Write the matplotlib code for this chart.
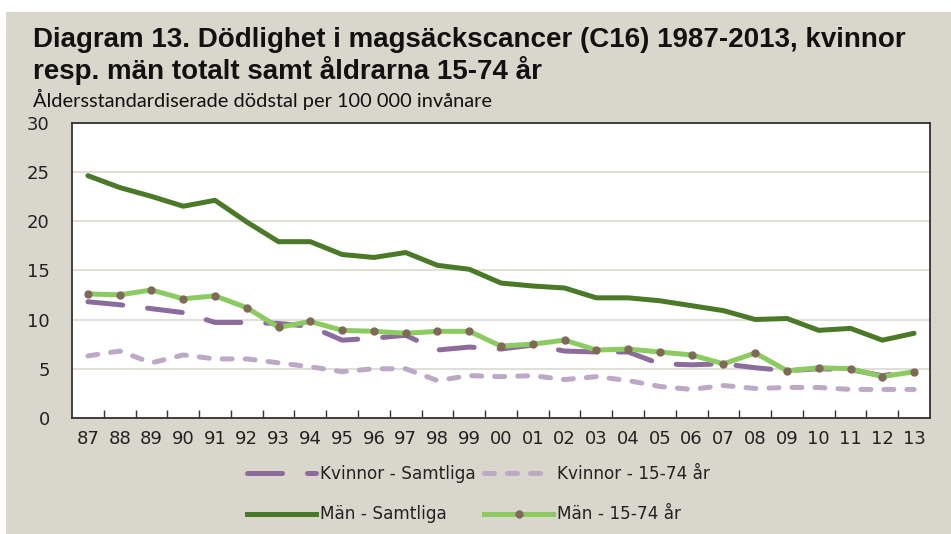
import matplotlib
matplotlib.use("Agg")
import matplotlib.pyplot as plt
from matplotlib.patches import Rectangle
from matplotlib.lines import Line2D

years = ["87", "88", "89", "90", "91", "92", "93", "94", "95", "96", "97", "98", "99",
         "00", "01", "02", "03", "04", "05", "06", "07", "08", "09", "10", "11", "12", "13"]

kvinnor_samtliga = [11.8, 11.5, 11.1, 10.7, 9.7, 9.7, 9.6, 9.3, 7.9, 8.1, 8.4, 6.9, 7.2,
                    7.0, 7.4, 6.8, 6.7, 6.7, 5.5, 5.4, 5.5, 5.1, 4.8, 5.0, 4.9, 4.3, 4.8]
kvinnor_1574 = [6.3, 6.8, 5.6, 6.4, 6.0, 6.0, 5.6, 5.2, 4.7, 5.0, 5.0, 3.8, 4.3,
                4.2, 4.3, 3.9, 4.2, 3.8, 3.2, 2.9, 3.3, 3.0, 3.1, 3.1, 2.9, 2.9, 2.9]
man_samtliga = [24.6, 23.4, 22.5, 21.5, 22.1, 19.9, 17.9, 17.9, 16.6, 16.3, 16.8, 15.5, 15.1,
                13.7, 13.4, 13.2, 12.2, 12.2, 11.9, 11.4, 10.9, 10.0, 10.1, 8.9, 9.1, 7.9, 8.6]
man_1574 = [12.6, 12.5, 13.0, 12.1, 12.4, 11.2, 9.2, 9.8, 8.9, 8.8, 8.6, 8.8, 8.8,
            7.3, 7.5, 7.9, 6.9, 7.0, 6.7, 6.4, 5.5, 6.6, 4.8, 5.1, 5.0, 4.2, 4.7]

labels = ["Kvinnor - Samtliga", "Kvinnor - 15-74 år", "Män - Samtliga", "Män - 15-74 år"]

C_PURPLE = "#8C6C9C"
C_LPURPLE = "#BDA9C6"
C_DGREEN = "#4A7A28"
C_LGREEN = "#8CCB62"
C_DOT = "#7F6A58"
BG = "#D9D7CB"

DASH_K = (7, 5)
DASH_K2 = (2, 2.6)

W, H = 951, 534
fig = plt.figure(figsize=(W / 100, H / 100), dpi=100, facecolor="white")
fig.patches.append(Rectangle((6 / W, 0), 1 - 6 / W, (H - 12) / H, transform=fig.transFigure,
                             facecolor=BG, edgecolor="none", zorder=-10))

ax = fig.add_axes([72 / W, 1 - 418 / H, (930 - 72) / W, (418 - 122.5) / H])
ax.set_facecolor("white")
x = list(range(len(years)))

ax.plot(x, kvinnor_samtliga, color=C_PURPLE, lw=3.6, dashes=DASH_K,
        dash_capstyle="round", zorder=3)
ax.plot(x, kvinnor_1574, color=C_LPURPLE, lw=3.6, dashes=DASH_K2, dash_capstyle="round", zorder=2)
ax.plot(x, man_samtliga, color=C_DGREEN, lw=3.6, solid_capstyle="round", zorder=4)
ax.plot(x, man_1574, color=C_LGREEN, lw=3.6, marker="o", ms=5, mfc=C_DOT, mec=C_DOT,
        solid_capstyle="round", zorder=5)

ax.set_xlim(-0.5, len(years) - 0.5)
ax.set_ylim(0, 30)
ax.set_yticks(range(0, 31, 5))
ax.yaxis.grid(True, color="#DCDAD0", lw=1.2)
ax.set_axisbelow(True)
ax.tick_params(axis="y", length=0, labelsize=13, pad=16, colors="#222222")
ax.set_xticks(x)
ax.set_xticklabels(years)
ax.tick_params(axis="x", which="major", length=0, labelsize=13, pad=9, colors="#222222")
ax.set_xticks([i + 0.5 for i in x[:-1]], minor=True)
ax.tick_params(axis="x", which="minor", direction="in", length=6, width=1, color="#333333")
for s in ax.spines.values():
    s.set_color("#333333")
    s.set_linewidth(1.3)

fig.text(33 / W, 1 - 47 / H, "Diagram 13. Dödlighet i magsäckscancer (C16) 1987-2013, kvinnor",
         fontsize=20, fontweight="bold", family="Liberation Sans", color="#111111", va="baseline")
fig.text(33 / W, 1 - 79 / H, "resp. män totalt samt åldrarna 15-74 år",
         fontsize=20, fontweight="bold", family="Liberation Sans", color="#111111", va="baseline")
fig.text(33 / W, 1 - 107 / H, "Åldersstandardiserade dödstal per 100 000 invånare",
         fontsize=14.4, family="Lato", color="#111111", va="baseline")

h_ks = Line2D([], [], color=C_PURPLE, lw=3.6, dashes=DASH_K, dash_capstyle="round")
h_k2 = Line2D([], [], color=C_LPURPLE, lw=3.6, dashes=DASH_K2, dash_capstyle="round")
h_ms = Line2D([], [], color=C_DGREEN, lw=3.6)
h_m2 = Line2D([], [], color=C_LGREEN, lw=3.6, marker="o", ms=5, mfc=C_DOT, mec=C_DOT)
# column-major fill: col1 = Kvinnor-Samtliga, Män-Samtliga; col2 = Kvinnor-15-74, Män-15-74
leg = fig.legend([h_ks, h_ms, h_k2, h_m2], [labels[0], labels[2], labels[1], labels[3]],
                 loc="center", bbox_to_anchor=(0.503, 1 - 494 / H), ncol=2,
                 frameon=False, fontsize=12.2, handlelength=4.1, handletextpad=0.2,
                 columnspacing=0.5, labelspacing=1.35)
for t in leg.get_texts():
    t.set_color("#222222")

fig.savefig("out.png", dpi=100, facecolor="white")
